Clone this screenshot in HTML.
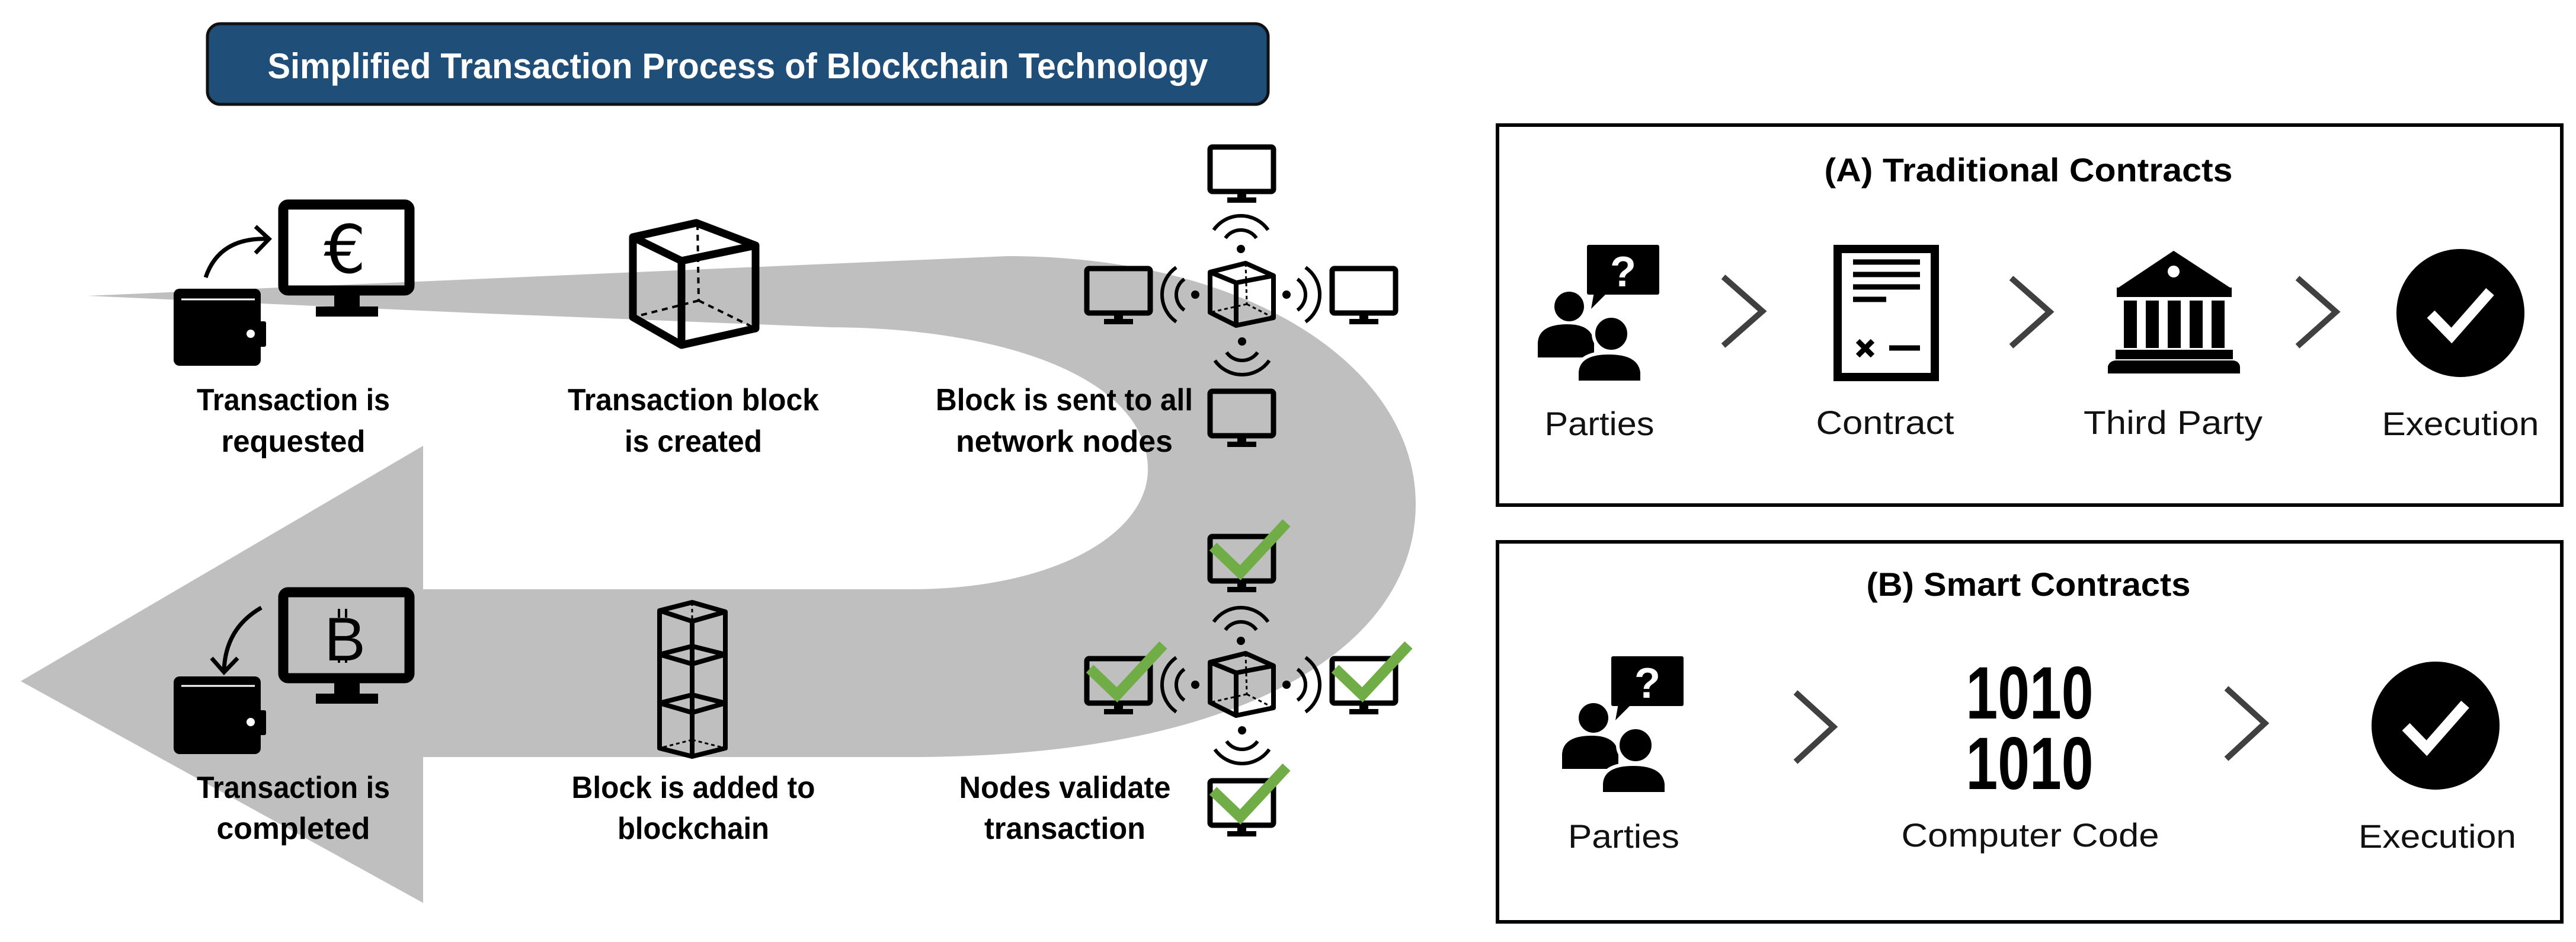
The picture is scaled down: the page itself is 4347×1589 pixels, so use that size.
<!DOCTYPE html>
<html><head><meta charset="utf-8"><style>html,body{margin:0;padding:0;background:#fff}svg{display:block}</style></head>
<body>
<svg width="4347" height="1589" viewBox="0 0 4347 1589" xmlns="http://www.w3.org/2000/svg">
<defs>
<g id="mon">
<rect x="4" y="4" width="107" height="75" rx="4" fill="none" stroke="#000" stroke-width="9"/>
<rect x="50" y="80" width="15" height="10" fill="#000"/>
<rect x="33" y="89" width="49" height="9" fill="#000"/>
</g>
<g id="wifi" fill="none" stroke="#000" stroke-width="6">
<circle cx="0" cy="0" r="7" fill="#000" stroke="none"/>
<path d="M-26.2,-18.4 A32,32 0 0 1 26.2,-18.4"/>
<path d="M-45.9,-32.1 A56,56 0 0 1 45.9,-32.1"/>
</g>
<g id="cube" fill="none" stroke="#000" stroke-linejoin="round">
<path d="M7,-53 L-53,-38 L-9,-20 L54,-32 Z M-53,-38 L-53,30 L-9,52 L54,39 L54,-32 M-9,-20 L-9,52" stroke-width="8"/>
<path d="M7,-53 L9,16 M9,16 L-53,30 M9,16 L54,39" stroke-width="3" stroke-dasharray="6,5"/>
</g>
<g id="chk" fill="none" stroke="#70ad47" stroke-width="18">
<path d="M12,22 L58,66 L136,-18"/>
</g>
<g id="parties">
<rect x="83" y="0" width="122" height="84" rx="3" fill="#000"/>
<path d="M95,80 L118,80 L90,108 Z" fill="#000"/>
<text x="144" y="70" font-family="Liberation Sans, sans-serif" font-weight="bold" font-size="72" fill="#fff" text-anchor="middle">?</text>
<circle cx="53" cy="104" r="25" fill="#000"/>
<path d="M0,190 L0,165 Q2,134 50,134 Q92,134 95,165 L95,190 Z" fill="#000"/>
<rect x="55" y="124" width="34" height="60" fill="#fff" transform="rotate(0)" opacity="0"/>
<circle cx="124" cy="150" r="30" fill="#000" stroke="#fff" stroke-width="6"/>
<path d="M66,232 L66,215 Q68,182 120,182 Q172,182 176,215 L176,232 Z" fill="#000" stroke="#fff" stroke-width="6"/>
</g>
<g id="exec">
<circle cx="0" cy="0" r="108" fill="#000"/>
<path d="M-50,2 L-15,38 L50,-36" fill="none" stroke="#fff" stroke-width="18"/>
</g>
</defs>

<!-- gray U arrow -->
<path d="M148,499 L1700,432 C2110,432 2389,620 2389,850 C2389,1090 2100,1277 1537,1277 L714,1277 L714,1523 L35,1149 L714,752 L714,994 L1537,994 C1780,994 1937,900 1937,792 C1937,640 1700,553 1400,552 L800,528 Z" fill="#bfbfbf"/>

<!-- title -->
<rect x="350" y="40" width="1790" height="136" rx="22" fill="#1f4e79" stroke="#111" stroke-width="5"/>
<text x="1245" y="132" font-family="Liberation Sans, sans-serif" font-weight="bold" font-size="60" fill="#fff" text-anchor="middle" textLength="1587" lengthAdjust="spacingAndGlyphs">Simplified Transaction Process of Blockchain Technology</text>

<!-- top-left: wallet + euro monitor -->
<rect x="478" y="345" width="213" height="145" rx="8" fill="none" stroke="#000" stroke-width="17"/>
<rect x="564" y="497" width="43" height="22" fill="#000"/>
<rect x="533" y="517" width="105" height="17" fill="#000"/>
<text x="582" y="460" font-family="DejaVu Sans, sans-serif" font-size="112" fill="#000" text-anchor="middle">€</text>
<rect x="293" y="487" width="147" height="130" rx="10" fill="#000"/>
<rect x="436" y="542" width="13" height="43" rx="3" fill="#000"/>
<circle cx="423" cy="563" r="7" fill="#fff"/>
<line x1="306" y1="505" x2="430" y2="505" stroke="#fff" stroke-width="3"/>
<path d="M347,468 Q370,400 452,403" fill="none" stroke="#000" stroke-width="7"/>
<path d="M431,382 L454,403 L431,427" fill="none" stroke="#000" stroke-width="7"/>

<!-- bottom-left: wallet + bitcoin monitor -->
<rect x="478" y="999" width="213" height="145" rx="8" fill="none" stroke="#000" stroke-width="17"/>
<rect x="564" y="1151" width="43" height="20" fill="#000"/>
<rect x="533" y="1170" width="105" height="17" fill="#000"/>
<text x="582" y="1114" font-family="Liberation Sans, sans-serif" font-size="104" fill="#000" text-anchor="middle">B</text>
<line x1="572" y1="1027" x2="572" y2="1042" stroke="#000" stroke-width="4"/><line x1="584" y1="1027" x2="584" y2="1042" stroke="#000" stroke-width="4"/>
<line x1="572" y1="1112" x2="572" y2="1118" stroke="#000" stroke-width="4"/><line x1="584" y1="1112" x2="584" y2="1118" stroke="#000" stroke-width="4"/>
<rect x="293" y="1141" width="147" height="131" rx="10" fill="#000"/>
<rect x="436" y="1198" width="13" height="42" rx="3" fill="#000"/>
<circle cx="423" cy="1218" r="7" fill="#fff"/>
<line x1="306" y1="1157" x2="430" y2="1157" stroke="#fff" stroke-width="3"/>
<path d="M441,1025 Q380,1060 378,1132" fill="none" stroke="#000" stroke-width="7"/>
<path d="M357,1110 L378,1134 L401,1110" fill="none" stroke="#000" stroke-width="7"/>

<!-- big cube -->
<g fill="none" stroke="#000" stroke-linejoin="round">
<path d="M1068,400 L1175,376 L1275,414 L1150,440 Z M1068,400 L1068,535 L1150,582 L1275,554 L1275,414 M1150,440 L1150,582" stroke-width="13"/>
<path d="M1177,378 L1179,507 M1179,507 L1068,535 M1179,507 L1275,554" stroke-width="4" stroke-dasharray="10,8"/>
</g>

<!-- stack of cubes -->
<g fill="none" stroke="#000" stroke-linejoin="round">
<path d="M1113,1030 L1168,1016 L1224,1032 L1168,1048 Z M1113,1030 L1113,1262 L1168,1276 L1224,1262 L1224,1032 M1168,1048 L1168,1276" stroke-width="8"/>
<path d="M1113,1104 L1168,1090 L1224,1104 L1168,1120 Z M1113,1186 L1168,1172 L1224,1186 L1168,1202 Z" stroke-width="8"/>
<path d="M1168,1016 L1168,1248 M1168,1248 L1113,1262 M1168,1248 L1224,1262" stroke-width="3" stroke-dasharray="6,5"/>
</g>

<!-- network cluster 1 -->
<use href="#mon" x="2038" y="244"/>
<use href="#mon" x="1830" y="449"/>
<use href="#mon" x="2244" y="449"/>
<use href="#mon" x="2038" y="656"/>
<use href="#cube" transform="translate(2095,497)"/>
<use href="#wifi" transform="translate(2094,420)"/>
<use href="#wifi" transform="translate(2096,576) rotate(180)"/>
<use href="#wifi" transform="translate(2017,497) rotate(-90)"/>
<use href="#wifi" transform="translate(2171,497) rotate(90)"/>

<!-- network cluster 2 -->
<use href="#mon" x="2038" y="901"/>
<use href="#mon" x="1830" y="1107"/>
<use href="#mon" x="2244" y="1107"/>
<use href="#mon" x="2038" y="1313"/>
<use href="#cube" transform="translate(2095,1155)"/>
<use href="#wifi" transform="translate(2094,1081)"/>
<use href="#wifi" transform="translate(2096,1232) rotate(180)"/>
<use href="#wifi" transform="translate(2017,1155) rotate(-90)"/>
<use href="#wifi" transform="translate(2171,1155) rotate(90)"/>
<use href="#chk" transform="translate(2035,900)"/>
<use href="#chk" transform="translate(1827,1106)"/>
<use href="#chk" transform="translate(2241,1106)"/>
<use href="#chk" transform="translate(2035,1312)"/>

<!-- left labels -->
<g font-family="Liberation Sans, sans-serif" font-weight="bold" font-size="52" fill="#000" text-anchor="middle" lengthAdjust="spacingAndGlyphs">
<text x="495" y="692" textLength="326" lengthAdjust="spacingAndGlyphs">Transaction is</text>
<text x="495" y="762" textLength="243" lengthAdjust="spacingAndGlyphs">requested</text>
<text x="1170" y="692" textLength="424" lengthAdjust="spacingAndGlyphs">Transaction block</text>
<text x="1170" y="762" textLength="232" lengthAdjust="spacingAndGlyphs">is created</text>
<text x="1796" y="692" textLength="434" lengthAdjust="spacingAndGlyphs">Block is sent to all</text>
<text x="1796" y="762" textLength="366" lengthAdjust="spacingAndGlyphs">network nodes</text>
<text x="495" y="1346" textLength="326" lengthAdjust="spacingAndGlyphs">Transaction is</text>
<text x="495" y="1415" textLength="259" lengthAdjust="spacingAndGlyphs">completed</text>
<text x="1170" y="1346" textLength="411" lengthAdjust="spacingAndGlyphs">Block is added to</text>
<text x="1170" y="1415" textLength="256" lengthAdjust="spacingAndGlyphs">blockchain</text>
<text x="1797" y="1346" textLength="357" lengthAdjust="spacingAndGlyphs">Nodes validate</text>
<text x="1797" y="1415" textLength="272" lengthAdjust="spacingAndGlyphs">transaction</text>
</g>

<!-- Panel A -->
<rect x="2527" y="211" width="1796" height="641" fill="none" stroke="#000" stroke-width="6"/>
<text x="3423" y="306" font-family="Liberation Sans, sans-serif" font-weight="bold" font-size="56" text-anchor="middle" textLength="689" lengthAdjust="spacingAndGlyphs">(A) Traditional Contracts</text>
<use href="#parties" x="2595" y="413"/>
<g fill="none" stroke="#404040" stroke-width="10">
<path d="M2908,467 L2974,525 L2908,583"/>
<path d="M3394,469 L3459,526 L3394,584"/>
<path d="M3877,469 L3942,526 L3877,584"/>
<path d="M3030,1168 L3094,1226 L3030,1285"/>
<path d="M3757,1161 L3822,1220 L3757,1280"/>
</g>
<!-- contract -->
<rect x="3101" y="420" width="164" height="216" fill="none" stroke="#000" stroke-width="14"/>
<g stroke="#000" stroke-width="9">
<line x1="3127" y1="442" x2="3240" y2="442"/>
<line x1="3127" y1="463" x2="3240" y2="463"/>
<line x1="3127" y1="484" x2="3240" y2="484"/>
<line x1="3127" y1="505" x2="3183" y2="505"/>
<line x1="3188" y1="587" x2="3240" y2="587"/>
<line x1="3135" y1="575" x2="3160" y2="600"/>
<line x1="3160" y1="575" x2="3135" y2="600"/>
</g>
<!-- bank -->
<path d="M3572,487 L3668,423 L3766,487 Z" fill="#000"/>
<rect x="3572" y="485" width="194" height="16" fill="#000"/>
<circle cx="3668" cy="458" r="10" fill="#fff"/>
<g fill="#000">
<rect x="3584" y="507" width="22" height="80"/>
<rect x="3621" y="507" width="22" height="80"/>
<rect x="3658" y="507" width="22" height="80"/>
<rect x="3695" y="507" width="22" height="80"/>
<rect x="3732" y="507" width="22" height="80"/>
<rect x="3570" y="590" width="198" height="16"/>
<path d="M3557,630 L3557,618 Q3560,608 3572,608 L3766,608 Q3778,608 3780,618 L3780,630 Z"/>
</g>
<use href="#exec" transform="translate(4152,528)"/>
<g font-family="Liberation Sans, sans-serif" font-size="56" fill="#111" text-anchor="middle">
<text x="2699" y="734" textLength="185" lengthAdjust="spacingAndGlyphs">Parties</text>
<text x="3181" y="732" textLength="233" lengthAdjust="spacingAndGlyphs">Contract</text>
<text x="3667" y="732" textLength="302" lengthAdjust="spacingAndGlyphs">Third Party</text>
<text x="4152" y="734" textLength="265" lengthAdjust="spacingAndGlyphs">Execution</text>
</g>

<!-- Panel B -->
<rect x="2527" y="914" width="1796" height="641" fill="none" stroke="#000" stroke-width="6"/>
<text x="3423" y="1005" font-family="Liberation Sans, sans-serif" font-weight="bold" font-size="56" text-anchor="middle" textLength="547" lengthAdjust="spacingAndGlyphs">(B) Smart Contracts</text>
<use href="#parties" x="2636" y="1107"/>
<g font-family="Liberation Sans, sans-serif" font-weight="bold" font-size="125" fill="#000" text-anchor="middle">
<text x="3425" y="1212" textLength="215" lengthAdjust="spacingAndGlyphs">1010</text>
<text x="3425" y="1331" textLength="215" lengthAdjust="spacingAndGlyphs">1010</text>
</g>
<use href="#exec" transform="translate(4110,1224)"/>
<g font-family="Liberation Sans, sans-serif" font-size="56" fill="#111" text-anchor="middle">
<text x="2740" y="1430" textLength="188" lengthAdjust="spacingAndGlyphs">Parties</text>
<text x="3426" y="1428" textLength="435" lengthAdjust="spacingAndGlyphs">Computer Code</text>
<text x="4113" y="1430" textLength="266" lengthAdjust="spacingAndGlyphs">Execution</text>
</g>
</svg>
</body></html>
